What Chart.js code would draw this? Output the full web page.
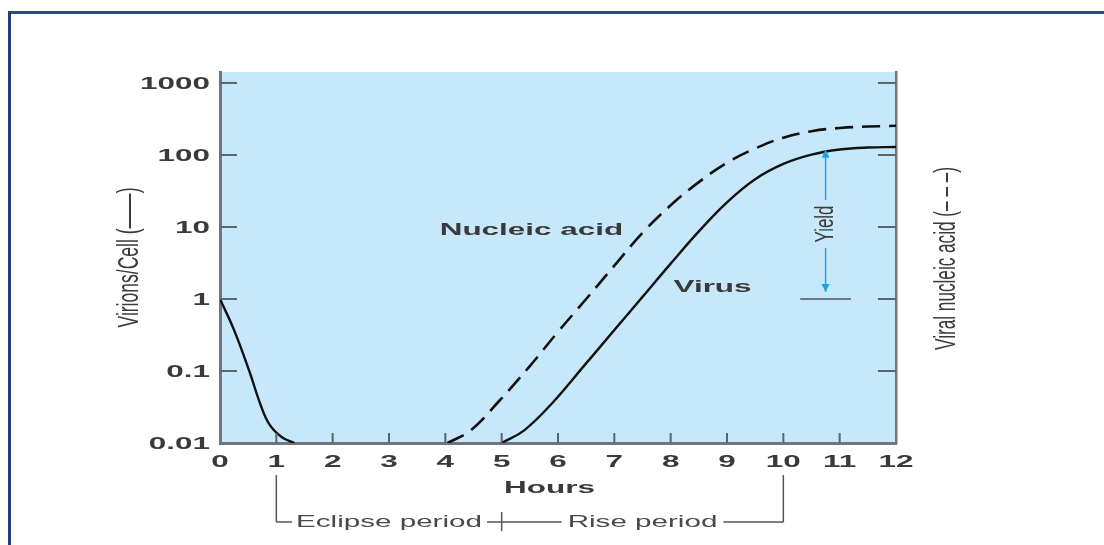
<!DOCTYPE html>
<html>
<head>
<meta charset="utf-8">
<script src="https://cdn.jsdelivr.net/npm/chart.js@4.4.1/dist/chart.umd.min.js"></script>
<style>
  body { margin: 0; background: #fff; }
  #frame { position: absolute; left: 8px; top: 11px; width: 1200px; height: 600px;
           border-left: 3px solid #233f72; border-top: 3px solid #2b4a80; }
  #wrap { position: absolute; left: 0; top: 0; width: 1104px; height: 545px; }
</style>
</head>
<body>
<div id="frame"></div>
<div id="wrap"><canvas id="growthChart" width="1104" height="545"></canvas></div>
<script>
// one-step growth curve
const virusHours  = [0, 0.25, 0.52, 0.72, 0.88, 1.1, 1.32, 3, 5.0, 5.4, 5.9, 6.45, 7.0, 7.5, 8.0, 8.5, 9.0, 9.5, 10.0, 10.5, 11.0, 11.5, 12];
const virusValues = [1, 0.37, 0.1, 0.034, 0.018, 0.012, 0.01, null, 0.01, 0.015, 0.036, 0.115, 0.37, 1.07, 3.1, 8.7, 22, 46, 75, 101, 119, 127, 129];

const nucleicHours  = [4.04, 4.45, 4.95, 5.5, 6.0, 6.5, 7.0, 7.5, 8.0, 8.5, 9.0, 9.5, 10.0, 10.5, 11.0, 11.5, 12];
const nucleicValues = [0.01, 0.015, 0.038, 0.117, 0.35, 1.0, 2.9, 8.3, 20, 42, 78, 123, 174, 214, 237, 248, 254];

const xTicks = [0, 1, 2, 3, 4, 5, 6, 7, 8, 9, 10, 11, 12];
const yTicks = [0.01, 0.1, 1, 10, 100, 1000];
const yTickLabels = ['0.01', '0.1', '1', '10', '100', '1000'];

const plotBlue = '#c6e8fa';
const axisGrey = '#6f767d';
const textDark = '#3a3a3a';
const FONT = '"Liberation Sans", Arial, sans-serif';
const SX = 1.85; // the source figure is stretched sideways

function toPoints(xs, ys) {
  return xs.map((x, i) => ({ x: x, y: ys[i] }));
}

// horizontal text, widened like the source
function wideText(ctx, text, x, y, font, align, color) {
  ctx.save();
  ctx.translate(x, y);
  ctx.scale(SX, 1);
  ctx.font = font;
  ctx.textAlign = align;
  ctx.textBaseline = 'middle';
  ctx.fillStyle = color || textDark;
  ctx.fillText(text, 0, 0);
  ctx.restore();
}

// vertical text: glyphs widened on screen, length fitted
function rotatedText(ctx, text, x, y, font, length) {
  ctx.save();
  ctx.translate(x, y);
  ctx.rotate(-Math.PI / 2);
  ctx.font = font;
  const w = ctx.measureText(text).width;
  ctx.scale(length / w, SX);
  ctx.textAlign = 'center';
  ctx.textBaseline = 'middle';
  ctx.fillStyle = textDark;
  ctx.fillText(text, 0, 0);
  ctx.restore();
}

function textWidth(ctx, text, font) {
  ctx.save();
  ctx.font = font;
  const w = ctx.measureText(text).width * SX;
  ctx.restore();
  return w;
}

function line(ctx, x1, y1, x2, y2) {
  ctx.beginPath();
  ctx.moveTo(x1, y1);
  ctx.lineTo(x2, y2);
  ctx.stroke();
}

const extras = {
  id: 'extras',
  beforeDraw(chart) {
    const { ctx, chartArea: a } = chart;
    ctx.save();
    ctx.fillStyle = plotBlue;
    ctx.fillRect(a.left, a.top, a.right - a.left, a.bottom - a.top);
    ctx.restore();
  },
  afterDraw(chart) {
    const { ctx, chartArea: a } = chart;
    const xs = chart.scales.x, ys = chart.scales.y;

    ctx.save();
    // inward tick marks
    ctx.strokeStyle = '#5d646b';
    ctx.lineWidth = 2;
    yTicks.forEach(v => {
      if (v === 0.01) return;
      const py = ys.getPixelForValue(v);
      line(ctx, a.left, py, a.left + 17, py);
      line(ctx, a.right - 18, py, a.right, py);
    });
    xTicks.forEach(h => {
      if (h === 0 || h === 12) return;
      const px = xs.getPixelForValue(h);
      line(ctx, px, a.bottom, px, a.bottom - 10);
    });

    // tick labels
    yTicks.forEach((v, i) => {
      wideText(ctx, yTickLabels[i], a.left - 10, ys.getPixelForValue(v) + 1, 'bold 17px ' + FONT, 'right');
    });
    xTicks.forEach(h => {
      wideText(ctx, String(h), xs.getPixelForValue(h), 462, 'bold 17px ' + FONT, 'center');
    });

    // curve labels
    wideText(ctx, 'Nucleic acid', xs.getPixelForValue(3.9), ys.getPixelForValue(9), 'bold 17px ' + FONT, 'left');
    wideText(ctx, 'Virus', xs.getPixelForValue(8.05), ys.getPixelForValue(1.47), 'bold 17px ' + FONT, 'left');

    // yield marker
    const yx = xs.getPixelForValue(10.75);
    const yOne = ys.getPixelForValue(1);
    const yTop = ys.getPixelForValue(118);
    ctx.strokeStyle = '#555';
    ctx.lineWidth = 1.5;
    line(ctx, xs.getPixelForValue(10.3), yOne, xs.getPixelForValue(11.2), yOne);
    ctx.strokeStyle = '#1ea3de';
    ctx.fillStyle = '#1ea3de';
    ctx.lineWidth = 1.5;
    const yMid = ys.getPixelForValue(11);
    line(ctx, yx, yTop + 6, yx, yMid - 24);
    line(ctx, yx, yMid + 24, yx, yOne - 7);
    ctx.beginPath();
    ctx.moveTo(yx, yTop); ctx.lineTo(yx - 4, yTop + 8); ctx.lineTo(yx + 4, yTop + 8); ctx.closePath(); ctx.fill();
    ctx.beginPath();
    ctx.moveTo(yx, yOne - 7); ctx.lineTo(yx - 4, yOne - 15); ctx.lineTo(yx + 4, yOne - 15); ctx.closePath(); ctx.fill();
    rotatedText(ctx, 'Yield', yx, yMid, '14px ' + FONT, 37);

    // axis titles
    rotatedText(ctx, 'Virions/Cell (——)', 130, (a.top + a.bottom) / 2, '16px ' + FONT, 140);
    rotatedText(ctx, 'Viral nucleic acid (– – –)', 947, (a.top + a.bottom) / 2 + 1, '16px ' + FONT, 183);
    wideText(ctx, 'Hours', xs.getPixelForValue(5.85), 488, 'bold 17px ' + FONT, 'center');

    // eclipse / rise bracket
    const x1 = xs.getPixelForValue(1), x5 = xs.getPixelForValue(5), x10 = xs.getPixelForValue(10);
    const by = 522;
    const bf = '16px ' + FONT;
    const ecl = 'Eclipse period', rise = 'Rise period';
    const eW = textWidth(ctx, ecl, bf), rW = textWidth(ctx, rise, bf);
    const eC = (x1 + x5) / 2, rC = (x5 + x10) / 2;
    wideText(ctx, ecl, eC, by + 1, bf, 'center', '#4a4a4a');
    wideText(ctx, rise, rC, by + 1, bf, 'center', '#4a4a4a');
    ctx.strokeStyle = '#555';
    ctx.lineWidth = 1.5;
    line(ctx, x1, 475, x1, by);
    line(ctx, x1, by, eC - eW / 2 - 4, by);
    line(ctx, eC + eW / 2 + 5, by, rC - rW / 2 - 6, by);
    line(ctx, x5, by - 10, x5, by + 9);
    line(ctx, rC + rW / 2 + 6, by, x10, by);
    line(ctx, x10, by, x10, 475);
    ctx.restore();
  }
};

const ctx = document.getElementById('growthChart').getContext('2d');
const growthChart = new Chart(ctx, {
  type: 'line',
  data: {
    datasets: [
      { label: 'Virus', data: toPoints(virusHours, virusValues), borderColor: '#111', borderWidth: 2.4,
        pointRadius: 0, tension: 0.4, spanGaps: false, fill: false },
      { label: 'Nucleic acid', data: toPoints(nucleicHours, nucleicValues), borderColor: '#111', borderWidth: 2.6,
        borderDash: [18, 9], pointRadius: 0, tension: 0.4, fill: false }
    ]
  },
  options: {
    responsive: false,
    animation: false,
    devicePixelRatio: 1,
    layout: { padding: { left: 120, right: 108, top: 72, bottom: 0 } },
    plugins: { legend: { display: false }, tooltip: { enabled: false } },
    scales: {
      x: {
        type: 'linear', min: 0, max: 12,
        afterBuildTicks: s => { s.ticks = xTicks.map(v => ({ value: v })); },
        afterFit: s => { s.height = 102; },
        grid: { display: false },
        border: { display: true, color: axisGrey, width: 3 },
        ticks: { display: false }
      },
      y: {
        type: 'logarithmic', position: 'left', min: 0.01, max: 1420,
        afterBuildTicks: s => { s.ticks = yTicks.map(v => ({ value: v })); },
        afterFit: s => { s.width = 100; },
        grid: { display: false },
        border: { display: true, color: axisGrey, width: 3 },
        ticks: { display: false }
      },
      y2: {
        type: 'logarithmic', position: 'right', min: 0.01, max: 1420,
        afterBuildTicks: s => { s.ticks = yTicks.map(v => ({ value: v })); },
        afterFit: s => { s.width = 100; },
        grid: { display: false },
        border: { display: true, color: axisGrey, width: 2.5 },
        ticks: { display: false }
      }
    }
  },
  plugins: [extras]
});
</script>
</body>
</html>
